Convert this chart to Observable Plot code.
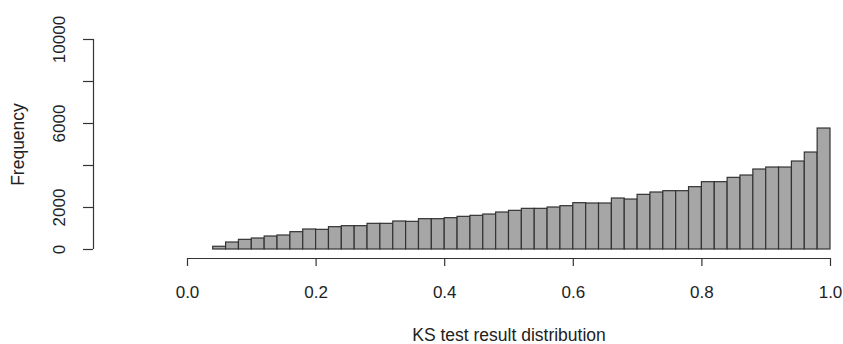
<!DOCTYPE html>
<html>
<head>
<meta charset="utf-8">
<script src="https://cdn.jsdelivr.net/npm/d3@7"></script>
<script src="https://cdn.jsdelivr.net/npm/@observablehq/plot@0.6"></script>
<style>
  html, body { margin: 0; padding: 0; background: #fff; }
  svg { display: block; }
</style>
</head>
<body>
<div id="chart"></div>
<script>
// Bin lower edges (width 0.02) and counts
const binStarts = [0.04,0.06,0.08,0.10,0.12,0.14,0.16,0.18,0.20,0.22,0.24,0.26,0.28,0.30,0.32,0.34,0.36,0.38,0.40,0.42,0.44,0.46,0.48,0.50,0.52,0.54,0.56,0.58,0.60,0.62,0.64,0.66,0.68,0.70,0.72,0.74,0.76,0.78,0.80,0.82,0.84,0.86,0.88,0.90,0.92,0.94,0.96,0.98];
const counts = [130,333,460,524,619,667,825,952,936,1063,1111,1111,1222,1222,1333,1317,1444,1444,1492,1555,1603,1666,1762,1841,1936,1936,2000,2063,2206,2190,2190,2428,2380,2603,2714,2777,2777,2968,3206,3206,3412,3523,3809,3904,3904,4190,4618,5761];
const binWidth = 0.02;
const xTicks = [0, 0.2, 0.4, 0.6, 0.8, 1.0];
const xTickLabels = ["0.0", "0.2", "0.4", "0.6", "0.8", "1.0"];
const yTicks = [0, 2000, 4000, 6000, 8000, 10000];
const yTickLabels = [0, 2000, 6000, 10000];
const xTitle = "KS test result distribution";
const yTitle = "Frequency";

const bins = binStarts.map((s, i) => ({x1: s, x2: +(s + binWidth).toFixed(2), count: counts[i]}));
const xLabelData = xTicks.map((v, i) => ({v, label: xTickLabels[i]}));

const font = "'Liberation Sans', Arial, Helvetica, sans-serif";
const ink = "#333333";

const chart = Plot.plot({
  width: 843,
  height: 344,
  marginLeft: 187,
  marginRight: 13,
  marginTop: 39,
  marginBottom: 95,
  style: {fontFamily: font, fontSize: "17px", color: "#222", background: "#fff"},
  x: {domain: [0, 1], axis: null},
  y: {domain: [0, 10000], axis: null},
  marks: [
    Plot.rectY(bins, {x1: "x1", x2: "x2", y: "count", fill: "#a6a6a6", stroke: ink, strokeWidth: 1.2}),
    // x axis (offset below the bars, R style)
    Plot.ruleY([0], {x1: 0, x2: 1, dy: 9, stroke: ink, strokeWidth: 1.2}),
    Plot.axisX(xTicks, {anchor: "bottom", tickSize: 8, dy: 9, text: null, label: null, stroke: ink, strokeWidth: 1.2}),
    Plot.text(xLabelData, {x: "v", text: "label", frameAnchor: "bottom", dy: 43, fontSize: 17, fill: "#222", lineAnchor: "middle"}),
    // y axis
    Plot.ruleX([0], {y1: 0, y2: 10000, dx: -94, stroke: ink, strokeWidth: 1.2}),
    Plot.axisY(yTicks, {anchor: "left", tickSize: 10, dx: -94, text: null, label: null, stroke: ink, strokeWidth: 1.2}),
    Plot.text(yTickLabels, {y: d => d, text: d => String(d), frameAnchor: "left", dx: -128, rotate: -90, textAnchor: "middle", lineAnchor: "middle", fontSize: 17, fill: "#222"}),
    // titles
    Plot.text([yTitle], {frameAnchor: "left", dx: -169, rotate: -90, textAnchor: "middle", lineAnchor: "middle", fontSize: 17.5, fill: "#222"}),
    Plot.text([xTitle], {frameAnchor: "bottom", dy: 86, textAnchor: "middle", lineAnchor: "middle", fontSize: 17.5, fill: "#222"})
  ]
});
document.getElementById("chart").appendChild(chart);
</script>
</body>
</html>
